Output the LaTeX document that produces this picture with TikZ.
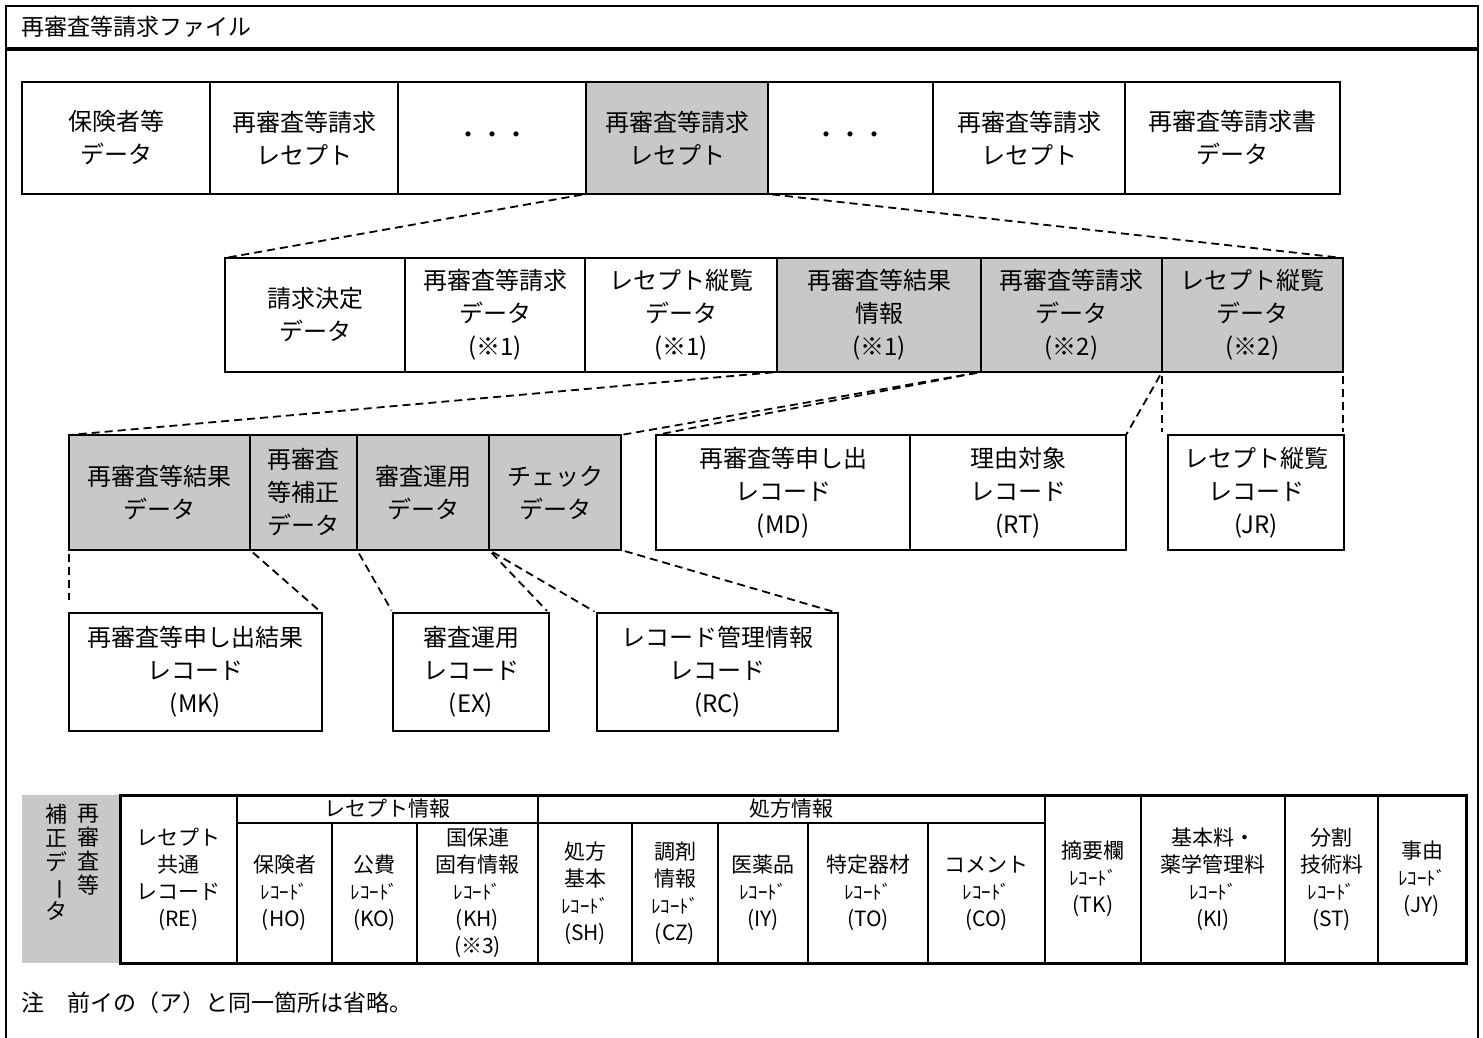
\documentclass[tikz,border=0pt]{standalone}
\usepackage{fontspec}
\setmainfont{Noto Sans CJK JP}
\usepackage{graphicx}
\usetikzlibrary{calc}
\definecolor{cellgray}{RGB}{200,200,200}
\newcommand\rcd{{\fontsize{19}{27}\selectfont ﾚｺｰﾄﾞ}}
\newcommand\vbar{\rotatebox[origin=c]{-90}{ー}}
\begin{document}
\begin{tikzpicture}[x=1pt,y=-1pt,
  box/.style={draw, line width=2.6pt, inner sep=0pt, outer sep=0pt, align=center, font=\fontsize{24}{33}\selectfont},
  gbox/.style={box, fill=cellgray},
  link/.style={draw, line width=1.8pt, dash pattern=on 8pt off 5pt, shorten <=4pt},
  tcell/.style={draw, line width=1.6pt, inner sep=0pt, outer sep=0pt, align=center, font=\fontsize{21}{27}\selectfont},
  plain/.style={inner sep=0pt, font=\fontsize{23}{28}\selectfont},
]
\useasboundingbox (0,0) rectangle (1483,1037);
% frame
\draw[line width=2pt] (6,1040) -- (6,6) -- (1478,6) -- (1478,1040);
\draw[line width=4pt] (6,49) -- (1478,49);
\node[plain, anchor=west] (title) at (21,27) {再審査等請求ファイル};

% row 1
\node[box, minimum width=188pt, minimum height=112pt] (r1a) at (116,138) {保険者等\\データ};
\node[box, minimum width=188pt, minimum height=112pt] (r1b) at (304,138) {再審査等請求\\レセプト};
\node[box, minimum width=188pt, minimum height=112pt] (r1c) at (492,138) {・・・};
\node[gbox, minimum width=182pt, minimum height=112pt] (r1d) at (677,138) {再審査等請求\\レセプト};
\node[box, minimum width=165pt, minimum height=112pt] (r1e) at (850.5,138) {・・・};
\node[box, minimum width=192pt, minimum height=112pt] (r1f) at (1029,138) {再審査等請求\\レセプト};
\node[box, minimum width=215pt, minimum height=112pt] (r1g) at (1232.5,138) {再審査等請求書\\データ};

% row 2
\node[box, minimum width=180pt, minimum height=114pt] (r2a) at (315,315) {請求決定\\データ};
\node[box, minimum width=180pt, minimum height=114pt] (r2b) at (495,315) {再審査等請求\\データ\\(※1)};
\node[box, minimum width=192pt, minimum height=114pt] (r2c) at (681,315) {レセプト縦覧\\データ\\(※1)};
\node[gbox, minimum width=204pt, minimum height=114pt] (r2d) at (879,315) {再審査等結果\\情報\\(※1)};
\node[gbox, minimum width=181pt, minimum height=114pt] (r2e) at (1071.5,315) {再審査等請求\\データ\\(※2)};
\node[gbox, minimum width=181pt, minimum height=114pt] (r2f) at (1252.5,315) {レセプト縦覧\\データ\\(※2)};

% row 3
\node[gbox, minimum width=181pt, minimum height=115pt] (r3a) at (159.5,492.5) {再審査等結果\\データ};
\node[gbox, minimum width=107pt, minimum height=115pt] (r3b) at (303.5,492.5) {再審査\\等補正\\データ};
\node[gbox, minimum width=132pt, minimum height=115pt] (r3c) at (423,492.5) {審査運用\\データ};
\node[gbox, minimum width=132pt, minimum height=115pt] (r3d) at (555,492.5) {チェック\\データ};
\node[box, minimum width=254pt, minimum height=115pt] (r3e) at (783,492.5) {再審査等申し出\\レコード\\(MD)};
\node[box, minimum width=216pt, minimum height=115pt] (r3f) at (1018,492.5) {理由対象\\レコード\\(RT)};
\node[box, minimum width=176pt, minimum height=115pt] (r3g) at (1256,492.5) {レセプト縦覧\\レコード\\(JR)};

% row 4
\node[box, minimum width=253pt, minimum height=118pt] (r4a) at (195.5,672) {再審査等申し出結果\\レコード\\(MK)};
\node[box, minimum width=156pt, minimum height=118pt] (r4b) at (471,672) {審査運用\\レコード\\(EX)};
\node[box, minimum width=241pt, minimum height=118pt] (r4c) at (717.5,672) {レコード管理情報\\レコード\\(RC)};

% links
\path[link] (r1d.south west) -- (r2a.north west);
\path[link] (r1d.south east) -- (r2f.north east);
\path[link] (r2d.south west) -- (r3a.north west);
\path[link] (r2d.south east) -- (r3d.north east);
\path[link] (r2d.south east) -- (r3e.north west);
\path[link] (r2e.south east) -- (r3f.north east);
\path[link, shorten >=3pt] (r2f.south west) -- (r2f.south west |- r3g.north);
\path[link, shorten >=3pt] (r2f.south east) -- (r2f.south east |- r3g.north);
\path[link, shorten >=13pt] (r3a.south west) -- (r3a.south west |- r4a.north);
\path[link, shorten >=5pt] (r3a.south east) -- (r4a.north east);
\path[link, shorten >=3pt] (r3c.south west) -- (r4b.north west);
\path[link, shorten >=3pt] (r3c.south east) -- (r4b.north east);
\path[link, shorten >=3pt] (r3d.south west) -- (r4c.north west);
\path[link, shorten >=3pt] (r3d.south east) -- (r4c.north east);

% bottom table
\node[fill=cellgray, inner sep=0pt, minimum width=98pt, minimum height=168pt] (lab) at (71,879) {};
\node[anchor=north, align=center, inner sep=0pt, font=\fontsize{22}{24}\selectfont] (lab1) at (56,804) {補\\正\\デ\\\vbar\\タ};
\node[anchor=north, align=center, inner sep=0pt, font=\fontsize{22}{24}\selectfont] (lab2) at (88,804) {再\\審\\査\\等};

\node[tcell, minimum width=301pt, minimum height=28pt] (hrec) at (387.5,809) {レセプト情報};
\node[tcell, minimum width=507pt, minimum height=28pt] (hsho) at (791.5,809) {処方情報};

\node[tcell, minimum width=117pt, minimum height=168pt] (re) at (178.5,879) {レセプト\\共通\\レコード\\(RE)};
\node[tcell, minimum width=96pt, minimum height=168pt] (tk) at (1093,879) {摘要欄\\\rcd\\(TK)};
\node[tcell, minimum width=144pt, minimum height=168pt] (ki) at (1213,879) {基本料・\\薬学管理料\\\rcd\\(KI)};
\node[tcell, minimum width=93pt, minimum height=168pt] (st) at (1331.5,879) {分割\\技術料\\\rcd\\(ST)};
\node[tcell, minimum width=88pt, minimum height=168pt] (jy) at (1422,879) {事由\\\rcd\\(JY)};

\node[tcell, minimum width=95pt, minimum height=140pt] (ho) at (284.5,893) {保険者\\\rcd\\(HO)};
\node[tcell, minimum width=85pt, minimum height=140pt] (ko) at (374.5,893) {公費\\\rcd\\(KO)};
\node[tcell, minimum width=121pt, minimum height=140pt] (kh) at (477.5,893) {国保連\\固有情報\\\rcd\\(KH)\\(※3)};
\node[tcell, minimum width=94pt, minimum height=140pt] (sh) at (585,893) {処方\\基本\\\rcd\\(SH)};
\node[tcell, minimum width=86pt, minimum height=140pt] (cz) at (675,893) {調剤\\情報\\\rcd\\(CZ)};
\node[tcell, minimum width=90pt, minimum height=140pt] (iy) at (763,893) {医薬品\\\rcd\\(IY)};
\node[tcell, minimum width=120pt, minimum height=140pt] (to) at (868,893) {特定器材\\\rcd\\(TO)};
\node[tcell, minimum width=117pt, minimum height=140pt] (co) at (986.5,893) {コメント\\\rcd\\(CO)};

\draw[line width=3pt] (re.north west) rectangle (jy.south east);

\node[plain, anchor=west] (note) at (21,1003) {注　前イの（ア）と同一箇所は省略。};
\end{tikzpicture}
\end{document}
